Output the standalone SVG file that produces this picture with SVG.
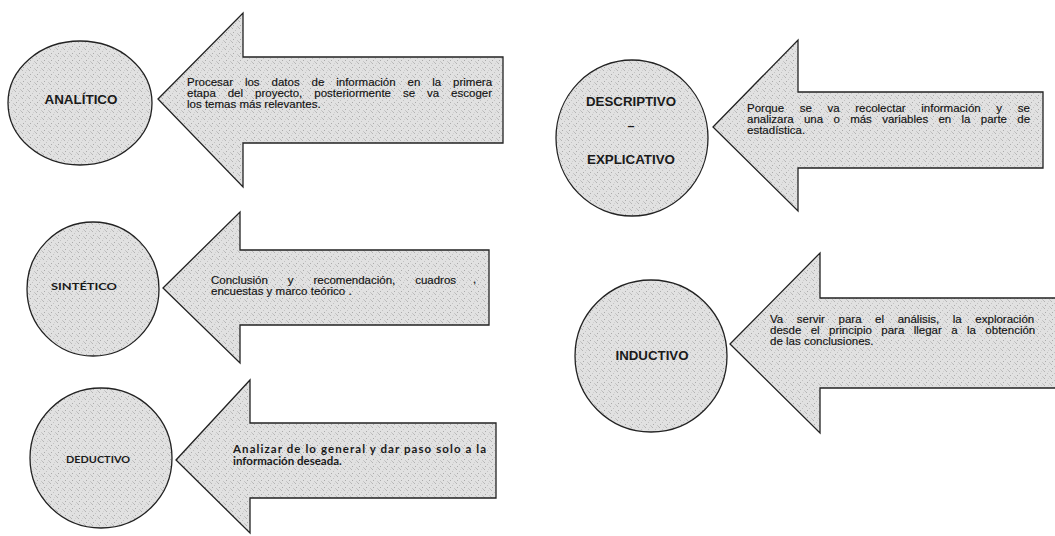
<svg xmlns="http://www.w3.org/2000/svg" width="1055" height="536" viewBox="0 0 1055 536">
<defs>
<pattern id="tex" width="7" height="7" patternUnits="userSpaceOnUse">
<rect width="7" height="7" fill="#e1e1e1"/>
<rect x="1" y="0" width="1" height="1" fill="#b4b4b4"/>
<rect x="4" y="2" width="1" height="1" fill="#c2c2c2"/>
<rect x="2" y="4" width="1" height="1" fill="#ababab"/>
<rect x="6" y="5" width="1" height="1" fill="#c6c6c6"/>
<rect x="5" y="0" width="1" height="1" fill="#cfcfcf"/>
<rect x="0" y="6" width="1" height="1" fill="#bdbdbd"/>
</pattern>
<style>
.shape{fill:url(#tex);stroke:#222;stroke-width:1.3}
.lbl{font-family:"Liberation Sans",Arial,sans-serif;font-weight:bold;font-size:12.5px;fill:#1a1a1a;text-anchor:middle}
.lblc{font-family:Lato,"Open Sans",sans-serif;font-weight:bold;font-size:10px;fill:#1a1a1a;text-anchor:middle}
.txt{font-family:"Liberation Sans",Arial,sans-serif;font-size:11.5px;fill:#111;stroke:#111;stroke-width:0.15}
.txtc{font-family:Lato,"Open Sans",sans-serif;font-weight:bold;font-size:11.5px;fill:#1a1a1a}
</style>
</defs>
<rect width="1055" height="536" fill="#ffffff"/>

<g id="connectors">
<g id="arrow-analitico">
<polygon class="shape" points="158,99 243,13 243,57 503,57 503,143 243,143 243,187"/>
<text class="txt" x="187" y="86" word-spacing="8.7">Procesar los datos de información en la primera</text>
<text class="txt" x="187" y="97" word-spacing="8.75">etapa del proyecto, posteriormente se va escoger</text>
<text class="txt" x="187" y="108">los temas más relevantes.</text>
</g>
<g id="arrow-sintetico">
<polygon class="shape" points="163,288 240,212 240,250 489,250 489,325 240,325 240,363"/>
<text class="txt" x="211" y="284" word-spacing="16.7">Conclusión y recomendación, cuadros</text>
<text class="txt" x="473" y="283">,</text>
<text class="txt" x="211" y="295">encuestas  y marco teórico .</text>
</g>
<g id="arrow-deductivo">
<polygon class="shape" points="176,460 250,380 250,423 496,423 496,498 250,498 250,533"/>
<text class="txtc" x="233" y="453" textLength="253" lengthAdjust="spacing">Analizar de lo general y dar paso solo a la</text>
<text class="txtc" x="233" y="465">información deseada.</text>
</g>
<g id="arrow-descriptivo">
<polygon class="shape" points="713,127 798,40 798,92 1043,92 1043,168 798,168 798,211"/>
<text class="txt" x="747" y="112" word-spacing="12.4">Porque se va recolectar información y se</text>
<text class="txt" x="747" y="123" word-spacing="7.1">analizara una o más variables en la parte de</text>
<text class="txt" x="747" y="134">estadística.</text>
</g>
<g id="arrow-inductivo">
<polygon class="shape" points="730,344 820,253 820,298 1062,298 1062,388 820,388 820,433"/>
<text class="txt" x="770" y="323" word-spacing="10.4">Va servir para el análisis, la exploración</text>
<text class="txt" x="770" y="334" word-spacing="6.2">desde el principio para llegar a la obtención</text>
<text class="txt" x="770" y="345">de las conclusiones.</text>
</g>
</g>

<g id="node-analitico">
<ellipse class="shape" cx="80" cy="103" rx="72" ry="62"/>
<text class="lbl" x="81" y="104" textLength="73" lengthAdjust="spacingAndGlyphs">ANALÍTICO</text>
</g>
<g id="node-sintetico">
<ellipse class="shape" cx="93" cy="289" rx="66" ry="67"/>
<text class="lblc" x="84" y="290" textLength="66" lengthAdjust="spacingAndGlyphs">SINTÉTICO</text>
</g>
<g id="node-deductivo">
<ellipse class="shape" cx="101" cy="458" rx="71" ry="70"/>
<text class="lblc" x="98" y="463" textLength="64" lengthAdjust="spacingAndGlyphs">DEDUCTIVO</text>
</g>
<g id="node-descriptivo">
<ellipse class="shape" cx="632" cy="138" rx="76" ry="78"/>
<text class="lbl" x="631" y="106" textLength="90" lengthAdjust="spacingAndGlyphs">DESCRIPTIVO</text>
<text class="lbl" x="631" y="130">–</text>
<text class="lbl" x="631" y="164" textLength="88" lengthAdjust="spacingAndGlyphs">EXPLICATIVO</text>
</g>
<g id="node-inductivo">
<ellipse class="shape" cx="651" cy="356" rx="76" ry="76"/>
<text class="lbl" x="652" y="360" textLength="73" lengthAdjust="spacingAndGlyphs">INDUCTIVO</text>
</g>
</svg>
